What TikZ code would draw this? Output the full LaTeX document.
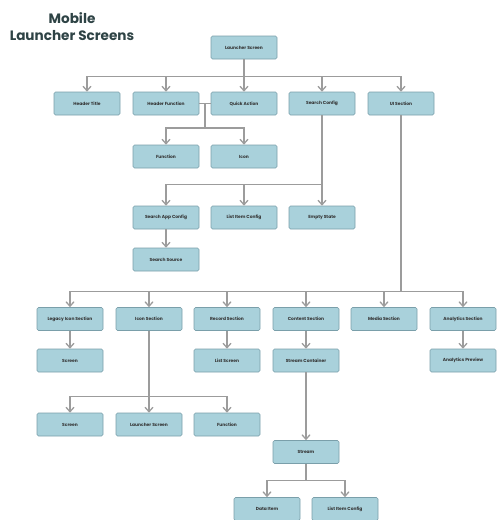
\documentclass[tikz,border=0pt]{standalone}
\usepackage{fontspec}
\setmainfont{Poppins}
\usetikzlibrary{arrows.meta,calc}
\definecolor{boxfill}{HTML}{A9D1DB}
\definecolor{boxline}{HTML}{7A9FAA}
\definecolor{connc}{HTML}{9C9C9C}
\definecolor{titlec}{HTML}{2E4345}
\begin{document}
\begin{tikzpicture}[x=1pt,y=-1pt,
 box/.style={draw=boxline, fill=boxfill, rounded corners=1.5pt, minimum width=66pt, minimum height=23pt, inner sep=0pt, font=\fontsize{4.4}{5}\selectfont\bfseries, text=black!80, line width=0.6pt},
 conn/.style={draw=connc, line width=1.3pt},
 arr/.style={conn, -{Straight Barb[length=4.5pt,width=8pt]}}]
\useasboundingbox (0,0) rectangle (497,520);
\node[font=\fontsize{13.6}{17}\selectfont\bfseries, text=titlec, align=center] (title) at (72,26.5) {Mobile\\Launcher Screens};
% nodes
\node[box] (ls) at (244,47.5) {Launcher Screen};
\node[box] (ht) at (87,103.5) {Header Title};
\node[box] (hf) at (166,103.5) {Header Function};
\node[box] (qa) at (244,103.5) {Quick Action};
\node[box] (sc) at (322,103.5) {Search Config};
\node[box] (ui) at (401,103.5) {UI Section};
\node[box] (fn) at (166,156.5) {Function};
\node[box] (ic) at (244,156.5) {Icon};
\node[box] (sac) at (166,217.5) {Search App Config};
\node[box] (lic) at (244,217.5) {List Item Config};
\node[box] (es) at (322,217.5) {Empty State};
\node[box] (ss) at (166,259.5) {Search Source};
\node[box] (lis) at (70,319) {Legacy Icon Section};
\node[box] (isec) at (149,319) {Icon Section};
\node[box] (rs) at (227,319) {Record Section};
\node[box] (cs) at (306,319) {Content Section};
\node[box] (ms) at (384,319) {Media Section};
\node[box] (as) at (463,319) {Analytics Section};
\node[box] (scr1) at (70,360.5) {Screen};
\node[box] (lscr) at (227,360.5) {List Screen};
\node[box] (stc) at (306,360.5) {Stream Container};
\node[box] (ap) at (463,360.5) {Analytics Preview};
\node[box] (scr2) at (70,424.5) {Screen};
\node[box] (lsc2) at (149,424.5) {Launcher Screen};
\node[box] (fn2) at (227,424.5) {Function};
\node[box] (st) at (306,452) {Stream};
\node[box] (di) at (267,509) {Data Item};
\node[box] (lic2) at (345,509) {List Item Config};
% connectors
\foreach \c in {ht,hf,qa,sc,ui} \draw[arr] (ls.south) -- ++(0,17) -| (\c.north);
\coordinate (qj) at ($(hf.east)!0.5!(qa.west)$);
\draw[conn] (hf.east) -- (qa.west);
\foreach \c in {fn,ic} \draw[arr] (qj) -- ++(0,24.5) -| (\c.north);
\foreach \c in {sac,lic,es} \draw[arr] (sc.south) -- ++(0,69.5) -| (\c.north);
\draw[arr] (sac) -- (ss);
\foreach \c in {lis,isec,rs,cs,ms,as} \draw[arr] (ui.south) -- ++(0,176) -| (\c.north);
\draw[arr] (lis) -- (scr1);
\draw[arr] (rs) -- (lscr);
\draw[arr] (cs) -- (stc);
\draw[arr] (as) -- (ap);
\foreach \c in {scr2,lsc2,fn2} \draw[arr] (isec.south) -- ++(0,65.5) -| (\c.north);
\draw[arr] (stc) -- (st);
\foreach \c in {di,lic2} \draw[arr] (st.south) -- ++(0,16.5) -| (\c.north);
\end{tikzpicture}
\end{document}
